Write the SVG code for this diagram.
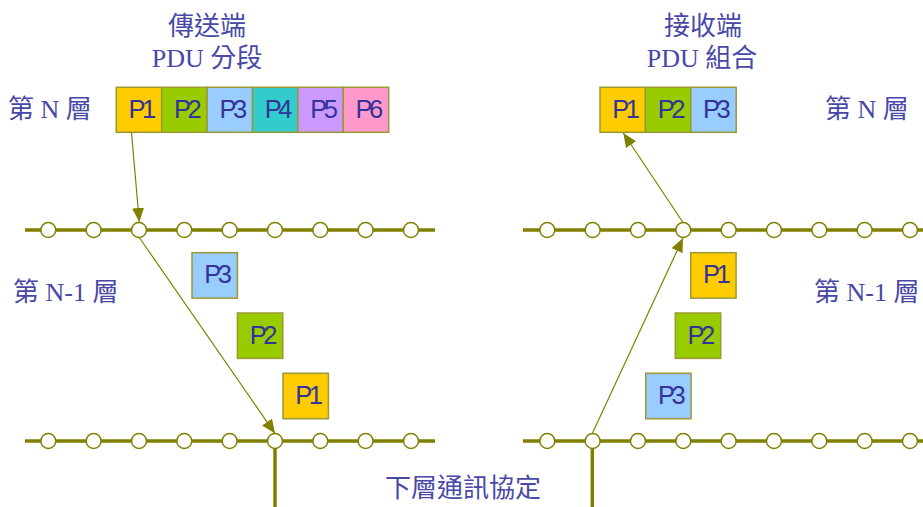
<svg xmlns="http://www.w3.org/2000/svg" width="923" height="507" viewBox="0 0 923 507">
<defs>
<style>
.lbl{font-family:"Liberation Serif","Noto Sans CJK TC",serif;font-size:26px;fill:#4848A8;}
.pk{font-family:"Liberation Sans",Arial,sans-serif;font-size:25.5px;fill:#333399;text-anchor:middle;letter-spacing:-3.5px;}
.box{stroke:#999933;stroke-width:1.5;}
.bus{stroke:#808000;stroke-width:3.5;fill:none;}
.node{fill:#fff;stroke:#808000;stroke-width:1.5;}
.arr{stroke:#808000;stroke-width:1.2;fill:none;marker-end:url(#ah);}
.c1{fill:#FFCC00}.c2{fill:#99CC00}.c3{fill:#99CCFF}.c4{fill:#33CCCC}.c5{fill:#CC99FF}.c6{fill:#FF99CC}
</style>
<marker id="ah" markerUnits="userSpaceOnUse" markerWidth="14" markerHeight="12" refX="14" refY="6" orient="auto" viewBox="0 0 14 12">
<path d="M0,0 L14,6 L0,12 z" fill="#808000"/>
</marker>
<g id="nodes9">
<circle class="node" cx="0" cy="0" r="7.5"/>
<circle class="node" cx="45.33" cy="0" r="7.5"/>
<circle class="node" cx="90.67" cy="0" r="7.5"/>
<circle class="node" cx="136" cy="0" r="7.5"/>
<circle class="node" cx="181.33" cy="0" r="7.5"/>
<circle class="node" cx="226.67" cy="0" r="7.5"/>
<circle class="node" cx="272" cy="0" r="7.5"/>
<circle class="node" cx="317.33" cy="0" r="7.5"/>
<circle class="node" cx="362.67" cy="0" r="7.5"/>
</g>
</defs>
<rect width="923" height="507" fill="#fff"/>

<g id="labels">
<text class="lbl" x="207" y="35" text-anchor="middle">傳送端</text>
<text class="lbl" x="207" y="67" text-anchor="middle">PDU 分段</text>
<text class="lbl" x="703" y="35" text-anchor="middle">接收端</text>
<text class="lbl" x="702" y="67" text-anchor="middle">PDU 組合</text>
<text class="lbl" x="8" y="118">第 N 層</text>
<text class="lbl" x="825" y="118">第 N 層</text>
<text class="lbl" x="13" y="301">第 N-1 層</text>
<text class="lbl" x="814" y="301">第 N-1 層</text>
<text class="lbl" x="385" y="497">下層通訊協定</text>
</g>

<g id="buses">
<line class="bus" x1="25" y1="230" x2="435" y2="230"/>
<line class="bus" x1="25" y1="441" x2="435" y2="441"/>
<line class="bus" x1="275" y1="441" x2="275" y2="507"/>
<line class="bus" x1="523" y1="230" x2="923" y2="230"/>
<line class="bus" x1="523" y1="441" x2="923" y2="441"/>
<line class="bus" x1="592.3" y1="441" x2="592.3" y2="507"/>
</g>

<g id="connectors">
<line class="arr" x1="131.5" y1="132.5" x2="139.3" y2="222"/>
<line class="arr" x1="139.3" y1="237.5" x2="275" y2="433.5"/>
<line class="arr" x1="592.3" y1="433.5" x2="683" y2="238"/>
<line class="arr" x1="683" y1="222.5" x2="623.3" y2="133"/>
</g>

<g id="bus-nodes">
<use href="#nodes9" x="48.3" y="230"/>
<use href="#nodes9" x="48.3" y="441"/>
<use href="#nodes9" x="547.3" y="230"/>
<use href="#nodes9" x="547.3" y="441"/>
</g>

<g id="send-N">
<rect class="box c1" x="116.3" y="87.3" width="45.4" height="45"/><text class="pk" x="140.7" y="117.8">P1</text>
<rect class="box c2" x="161.7" y="87.3" width="45.4" height="45"/><text class="pk" x="186.1" y="117.8">P2</text>
<rect class="box c3" x="207.1" y="87.3" width="45.4" height="45"/><text class="pk" x="231.5" y="117.8">P3</text>
<rect class="box c4" x="252.5" y="87.3" width="45.4" height="45"/><text class="pk" x="276.9" y="117.8">P4</text>
<rect class="box c5" x="297.9" y="87.3" width="45.4" height="45"/><text class="pk" x="322.3" y="117.8">P5</text>
<rect class="box c6" x="343.3" y="87.3" width="45.4" height="45"/><text class="pk" x="367.7" y="117.8">P6</text>
</g>

<g id="recv-N">
<rect class="box c1" x="600" y="87.3" width="45.4" height="45"/><text class="pk" x="624.4" y="117.8">P1</text>
<rect class="box c2" x="645.4" y="87.3" width="45.4" height="45"/><text class="pk" x="669.8" y="117.8">P2</text>
<rect class="box c3" x="690.8" y="87.3" width="45.4" height="45"/><text class="pk" x="715.2" y="117.8">P3</text>
</g>

<g id="send-N1">
<rect class="box c3" x="192" y="252.7" width="45.4" height="45.4"/><text class="pk" x="216.4" y="283.3">P3</text>
<rect class="box c2" x="237.4" y="313" width="45.4" height="45.4"/><text class="pk" x="261.8" y="343.6">P2</text>
<rect class="box c1" x="283" y="373.3" width="45.4" height="45.4"/><text class="pk" x="307.4" y="403.9">P1</text>
</g>

<g id="recv-N1">
<rect class="box c1" x="690.7" y="252.7" width="45.4" height="45.4"/><text class="pk" x="715.1" y="283.3">P1</text>
<rect class="box c2" x="675.3" y="313" width="45.4" height="45.4"/><text class="pk" x="699.7" y="343.6">P2</text>
<rect class="box c3" x="645.7" y="373.3" width="45.4" height="45.4"/><text class="pk" x="670.1" y="403.9">P3</text>
</g>
</svg>
